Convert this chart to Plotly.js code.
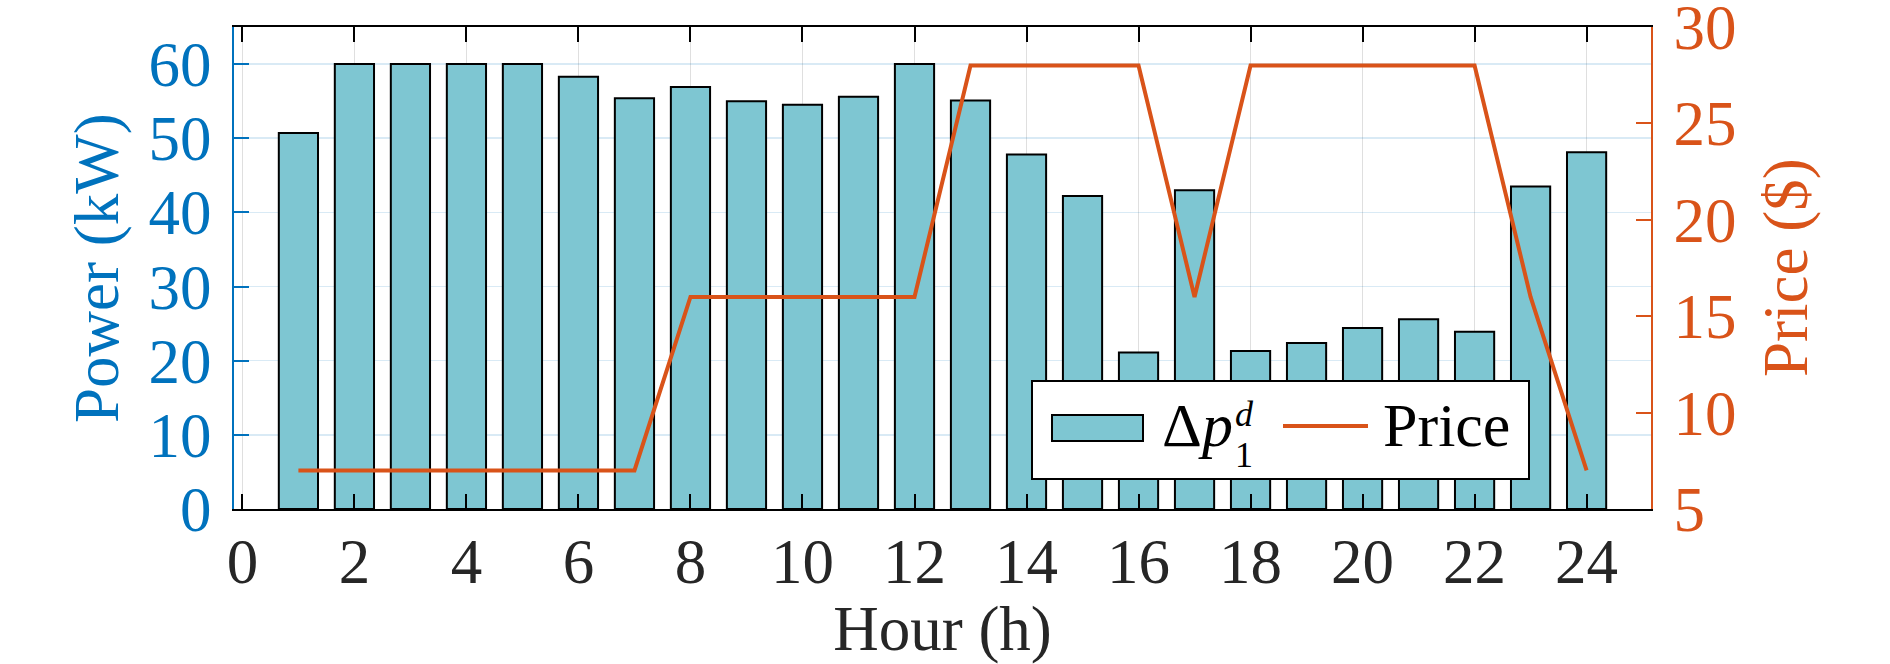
<!DOCTYPE html>
<html>
<head>
<meta charset="utf-8">
<script src="https://cdn.plot.ly/plotly-3.0.1.min.js"></script>
<style>
  html, body { margin: 0; padding: 0; background: #fff; }
  #chart { width: 1890px; height: 664px; }
</style>
</head>
<body>
<div id="chart"></div>
<script>
// data
var hours = [1, 2, 3, 4, 5, 6, 7, 8, 9, 10, 11, 12, 13, 14, 15, 16, 17, 18, 19, 20, 21, 22, 23, 24];
var power = [50.7, 60, 60, 60, 60, 58.3, 55.4, 56.9, 55.0, 54.5, 55.6, 60,
             55.1, 47.8, 42.2, 21.1, 43.0, 21.3, 22.4, 24.4, 25.6, 23.9, 43.5, 48.1];
var price = [7, 7, 7, 7, 7, 7, 7, 16, 16, 16, 16, 16,
             28, 28, 28, 28, 16, 28, 28, 28, 28, 28, 16, 7];
var hourTicks = [0, 2, 4, 6, 8, 10, 12, 14, 16, 18, 20, 22, 24];
var powerTicks = [0, 10, 20, 30, 40, 50, 60];
var priceTicks = [5, 10, 15, 20, 25, 30];

var blue = '#0072BD';
var orange = '#D95319';
var dark = '#262626';
var barFill = '#7EC6D2';
var font = '"Liberation Serif"';

// plot box in pixels
var L = 234, R = 239, T = 27, B = 155;
var W = 1890 - L - R, H = 664 - T - B;
var px = function (v) { return (v - L) / W; };
var py = function (v) { return (664 - B - v) / H; };

var barTrace = {
	type: 'bar',
	x: hours,
	y: power,
	width: 0.7,
	marker: { color: barFill, line: { color: '#000', width: 2 } },
	showlegend: false
};

var priceTrace = {
	type: 'scatter',
	mode: 'lines',
	x: hours,
	y: price,
	yaxis: 'y2',
	line: { color: orange, width: 4 },
	showlegend: false
};

// legend built by hand so the swatches can be as large as the original
var shapes = [
	{ type: 'rect', xref: 'paper', yref: 'paper', layer: 'above',
	  x0: px(1032), x1: px(1529), y0: py(479), y1: py(381),
	  fillcolor: '#fff', line: { color: '#000', width: 2 } },
	{ type: 'rect', xref: 'paper', yref: 'paper', layer: 'above',
	  x0: px(1052), x1: px(1143), y0: py(441), y1: py(415),
	  fillcolor: barFill, line: { color: '#000', width: 2 } },
	{ type: 'line', xref: 'paper', yref: 'paper', layer: 'above',
	  x0: px(1283), x1: px(1368), y0: py(426), y1: py(426),
	  line: { color: orange, width: 4 } }
];

var titleSize = 63;
var legFont = { family: font, size: 62, color: '#000' };
var smallFont = { family: font, size: 36, color: '#000' };
var annotations = [
	// legend texts
	{ xref: 'paper', yref: 'paper', x: px(1160), y: py(425), xanchor: 'left', yanchor: 'middle',
	  text: 'Δ<i>p</i>', showarrow: false, font: legFont },
	{ xref: 'paper', yref: 'paper', x: px(1233), y: py(414), xanchor: 'left', yanchor: 'middle',
	  text: '<i>d</i>', showarrow: false, font: smallFont },
	{ xref: 'paper', yref: 'paper', x: px(1233), y: py(455), xanchor: 'left', yanchor: 'middle',
	  text: '1', showarrow: false, font: smallFont },
	{ xref: 'paper', yref: 'paper', x: px(1381), y: py(425), xanchor: 'left', yanchor: 'middle',
	  text: 'Price', showarrow: false, font: legFont },
	// y axis titles, rotated like the original
	{ xref: 'paper', yref: 'paper', x: px(97), y: 0.5, xanchor: 'center', yanchor: 'middle',
	  textangle: -90, text: 'Power (kW)', showarrow: false,
	  font: { family: font, size: titleSize, color: blue } },
	{ xref: 'paper', yref: 'paper', x: px(1786), y: 0.5, xanchor: 'center', yanchor: 'middle',
	  textangle: -90, text: 'Price ($)', showarrow: false,
	  font: { family: font, size: titleSize, color: orange } }
];

var layout = {
	width: 1890,
	height: 664,
	margin: { l: L, r: R, t: T, b: B, pad: 0 },
	paper_bgcolor: '#fff',
	plot_bgcolor: '#fff',
	font: { family: font, size: 63, color: dark },
	showlegend: false,
	xaxis: {
		range: [-0.15, 25.15],
		tickvals: hourTicks,
		ticks: 'inside',
		ticklen: 15,
		tickwidth: 2,
		tickcolor: '#000',
		ticklabelstandoff: -4,
		tickfont: { family: font, size: 63, color: dark },
		showline: true,
		linecolor: '#000',
		linewidth: 2,
		mirror: 'ticks',
		showgrid: true,
		gridcolor: 'rgba(38,38,38,0.15)',
		gridwidth: 1.5,
		zeroline: false,
		title: { text: 'Hour (h)', font: { family: font, size: titleSize, color: dark } }
	},
	yaxis: {
		range: [0, 65],
		tickvals: powerTicks,
		ticks: 'inside',
		ticklen: 15,
		tickwidth: 2,
		tickcolor: blue,
		ticklabelstandoff: 8,
		ticklabeloverflow: 'allow',
		tickfont: { family: font, size: 63, color: blue },
		showline: true,
		linecolor: blue,
		linewidth: 2,
		showgrid: true,
		gridcolor: 'rgba(0,114,189,0.15)',
		gridwidth: 1.5,
		zeroline: false
	},
	yaxis2: {
		overlaying: 'y',
		side: 'right',
		range: [5, 30],
		tickvals: priceTicks,
		ticks: 'inside',
		ticklen: 15,
		tickwidth: 2,
		tickcolor: orange,
		ticklabelstandoff: 8,
		ticklabeloverflow: 'allow',
		tickfont: { family: font, size: 63, color: orange },
		showline: true,
		linecolor: orange,
		linewidth: 2,
		showgrid: false,
		zeroline: false
	},
	shapes: shapes,
	annotations: annotations
};

Plotly.newPlot('chart', [barTrace, priceTrace], layout, { staticPlot: true, displayModeBar: false });
</script>
</body>
</html>
